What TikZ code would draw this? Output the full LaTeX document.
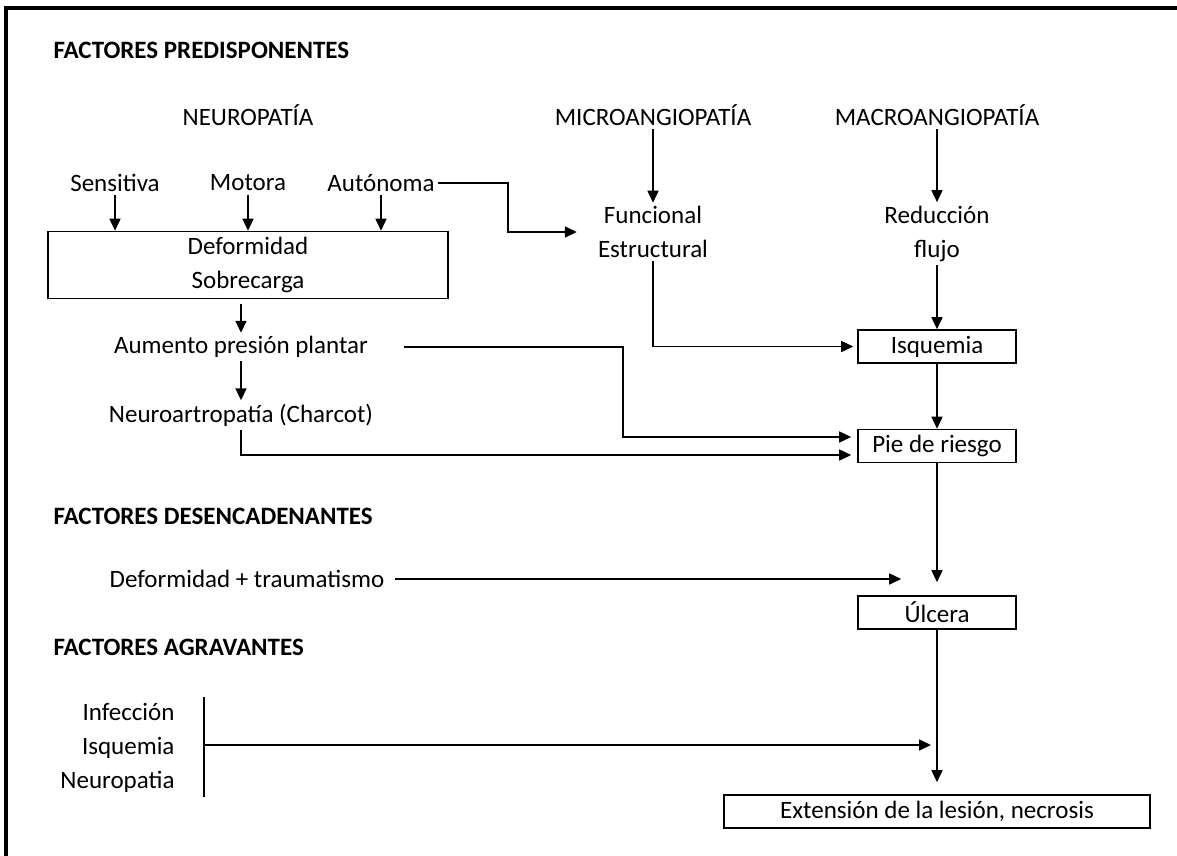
\documentclass[tikz,border=0pt]{standalone}
\usepackage{fontspec}
\setmainfont{Carlito}
\usetikzlibrary{arrows.meta,positioning}

\begin{document}
\begin{tikzpicture}[
    x=1pt, y=-1pt,
    on grid,
    every node/.style={font=\fontsize{25}{34}\selectfont, align=center},
    head/.style={font=\fontsize{25}{34}\selectfont\bfseries, anchor=west},
    box/.style={draw, line width=1.6pt, minimum height=33pt, minimum width=158pt},
    flow/.style={-{Triangle[length=12pt, width=11pt]}, line width=1.6pt},
    link/.style={line width=1.6pt},
    frame/.style={line width=4pt}
]
\useasboundingbox (0,0) rectangle (1177,855);
\draw[frame] (6,860) -- (6,8) -- (1182,8);

\node[head] (hPre) at (50,50) {FACTORES PREDISPONENTES};
\node (neuro) at (248,115) {NEUROPATÍA};
\node[right=405pt of neuro] (micro) {MICROANGIOPATÍA};
\node[right=284pt of micro] (macro) {MACROANGIOPATÍA};
\node[below=68pt of neuro] (motor) {Motora};
\node[left=133pt of motor] (sens) {Sensitiva};
\node[right=133pt of motor] (auton) {Autónoma};
\node[box, below=82pt of motor, minimum width=400pt, minimum height=67pt] (deform) {Deformidad\\Sobrecarga};
\node[below=82pt of deform, xshift=-7pt] (aumento) {Aumento presión plantar};
\node[below=68pt of aumento] (neuroart) {Neuroartropatía (Charcot)};
\node[below=117pt of micro, minimum width=152pt] (funest) {Funcional\\Estructural};
\node[below=118.5pt of macro] (reduc) {Reducción\\flujo};
\node[box, below=113pt of reduc] (isq) {Isquemia};
\node[box, below=99.5pt of isq] (pie) {Pie de riesgo};

\node[head] (hDes) at (50,516) {FACTORES DESENCADENANTES};
\node (trauma) at (247,579) {Deformidad + traumatismo};
\node[box, below=166.5pt of pie] (ulcera) {Úlcera};

\node[head] (hAgr) at (50,647) {FACTORES AGRAVANTES};
\node[anchor=east, align=right] (agr) at (178,748) {Infección\\Isquemia\\Neuropatia};
\coordinate (barT) at (204,697);
\coordinate (barM) at (204,745);
\coordinate (barB) at (204,797);
\node[box, below=199pt of ulcera, minimum width=426pt] (ext) {Extensión de la lesión, necrosis};

\draw[flow] (sens.south) -- (sens.south |- deform.north);
\draw[flow] (motor.south) -- (motor.south |- deform.north);
\draw[flow] (auton.south) -- (auton.south |- deform.north);
\draw[flow] (auton.east) -- ++(70pt,0) |- (funest.west);
\draw[flow] (micro) -- (funest);
\draw[flow] (macro) -- (reduc);
\draw[flow] (reduc) -- (isq);
\draw[flow] (funest.south) |- ([xshift=-4pt]isq.west);
\draw[flow] ([yshift=-5pt]deform.south -| aumento) -- (aumento);
\draw[flow] (aumento) -- (neuroart);
\draw[flow] ([xshift=33pt]aumento.east) -- ([xshift=-234pt]pie.west |- aumento) |- ([shift={(-6pt,9pt)}]pie.west);
\draw[flow] (neuroart) |- ([shift={(-6pt,-9pt)}]pie.west);
\draw[flow] (isq) -- (pie);
\draw[flow] (pie) -- ([yshift=13pt]ulcera.north);
\draw[flow] ([xshift=7pt]trauma.east) -- ([xshift=44pt]ulcera.west |- trauma);
\draw[flow] (ulcera) -- ([yshift=12pt]ext.north);
\draw[link] (barT) -- (barB);
\draw[flow] (barM) -- ([xshift=-6pt]ulcera.south |- barM);
\end{tikzpicture}
\end{document}
